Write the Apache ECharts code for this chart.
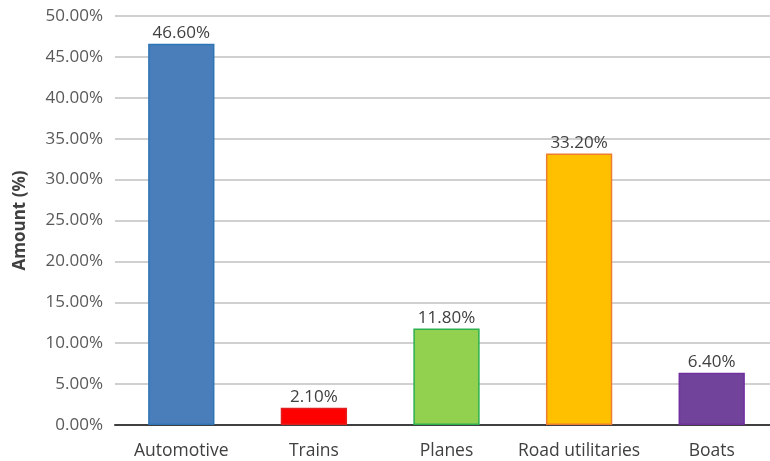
<!DOCTYPE html>
<html><head><meta charset="utf-8">
<script src="https://cdn.jsdelivr.net/npm/echarts@6/dist/echarts.min.js"></script>
<style>html,body{margin:0;padding:0;background:#fff}#c{width:770px;height:461px}</style>
</head><body><div id="c"></div>
<script>
const categories = ["Automotive", "Trains", "Planes", "Road utilitaries", "Boats"];
const values = [46.6, 2.1, 11.8, 33.2, 6.4];
const fillColors = ["#4a7ebb", "#ff0000", "#92d050", "#ffc000", "#71439a"];
const borderColors = ["#2e75b6", "#e02020", "#2eb050", "#ed7d31", "#7030a0"];
const yTicks = [0, 5, 10, 15, 20, 25, 30, 35, 40, 45, 50];

const chart = echarts.init(document.getElementById('c'));
chart.setOption({
  animation: false,
  grid: {left: 115, top: 16, right: -8, bottom: 36, containLabel: false, outerBoundsMode: 'none'},
  xAxis: {
    type: 'category', data: categories,
    axisLine: {lineStyle: {color: '#404040', width: 2}},
    axisTick: {show: false},
    axisLabel: {color: '#404040', fontFamily: 'Open Sans', fontSize: 17.5, margin: 17, interval: 0}
  },
  yAxis: {
    type: 'value', min: 0, max: 50, interval: 5,
    name: 'Amount (%)', nameLocation: 'middle', nameGap: 86,
    nameTextStyle: {fontFamily: 'Open Sans', fontWeight: 'bold', fontSize: 17, color: '#404040'},
    axisLine: {show: false}, axisTick: {show: false},
    splitLine: {lineStyle: {color: '#d0d0d0', width: 2}},
    axisLabel: {color: '#595959', fontFamily: 'Open Sans', fontSize: 17, margin: 12,
      formatter: v => yTicks.includes(v) ? v.toFixed(2) + '%' : ''}
  },
  series: [{
    type: 'bar', barWidth: '50%',
    data: values.map((v, i) => ({value: v, itemStyle: {color: fillColors[i], borderColor: borderColors[i], borderWidth: 1.5}})),
    label: {show: true, position: 'top', distance: 2, color: '#404040', fontFamily: 'Open Sans', fontSize: 17,
      formatter: p => p.value.toFixed(2) + '%'}
  }]
});
</script></body></html>
